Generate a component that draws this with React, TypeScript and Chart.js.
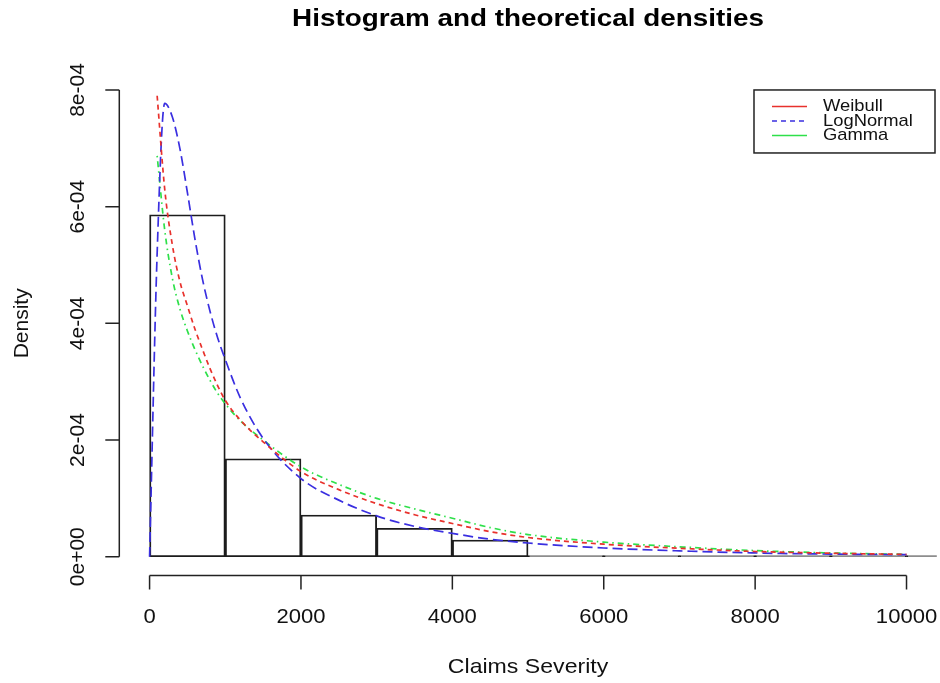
import React, { useEffect, useRef } from 'react';
import { Chart, registerables } from 'chart.js';

Chart.register(...registerables);

// Histogram
const binEdges = [0, 1000, 2000, 3000, 4000, 5000, 6000, 7000, 8000, 9000, 10000, 11000];
const binDensity = [5.86e-4, 1.68e-4, 0.715e-4, 0.487e-4, 0.286e-4, 0.02e-4, 0.02e-4, 0.02e-4, 0.02e-4, 0.02e-4, 0.02e-4];

// Density curves (x in claim units, y in density)
const curveX = [100, 200, 300, 400, 500, 600, 700, 800, 900, 1000, 1200, 1500, 2000, 2500, 3000, 3500, 4000, 4500, 5000, 6000, 7000, 8000, 9000, 10000];
const weibullY = [7.9e-4, 6.3e-4, 5.35e-4, 4.72e-4, 4.3e-4, 3.9e-4, 3.55e-4, 3.22e-4, 2.93e-4, 2.68e-4, 2.34e-4, 1.97e-4, 1.46e-4, 1.15e-4, 0.91e-4, 0.72e-4, 0.57e-4, 0.43e-4, 0.33e-4, 0.215e-4, 0.145e-4, 0.09e-4, 0.06e-4, 0.04e-4];
const gammaY = [6.87e-4, 5.6e-4, 4.78e-4, 4.25e-4, 3.87e-4, 3.55e-4, 3.27e-4, 3.02e-4, 2.8e-4, 2.62e-4, 2.33e-4, 2.0e-4, 1.54e-4, 1.24e-4, 1.0e-4, 0.82e-4, 0.66e-4, 0.5e-4, 0.38e-4, 0.25e-4, 0.17e-4, 0.105e-4, 0.065e-4, 0.04e-4];
const lognormX = [0, 100, 200, 300, 400, 500, 600, 700, 800, 900, 1000, 1200, 1500, 2000, 2500, 3000, 3500, 4000, 4500, 5000, 6000, 7000, 8000, 9000, 10000];
const lognormY = [0, 5.2e-4, 7.77e-4, 7.54e-4, 7.0e-4, 6.24e-4, 5.44e-4, 4.75e-4, 4.2e-4, 3.75e-4, 3.38e-4, 2.72e-4, 2.03e-4, 1.34e-4, 0.97e-4, 0.7e-4, 0.52e-4, 0.4e-4, 0.3e-4, 0.235e-4, 0.15e-4, 0.1e-4, 0.065e-4, 0.045e-4, 0.035e-4];

// Axes
const xTicks = [0, 2000, 4000, 6000, 8000, 10000];
const xTickLabels = ['0', '2000', '4000', '6000', '8000', '10000'];
const yTicks = [0, 2e-4, 4e-4, 6e-4, 8e-4];
const yTickLabels = ['0e+00', '2e-04', '4e-04', '6e-04', '8e-04'];
const xLimits = [-400, 10400];
const yLimits = [-0.32e-4, 8.32e-4];

const titleText = 'Histogram and theoretical densities';
const xTitle = 'Claims Severity';
const yTitle = 'Density';

const legendLabels = ['Weibull', 'LogNormal', 'Gamma'];
const legendColors = ['#e8312c', '#3a2fe0', '#2ee04a'];
const legendDashes: number[][] = [[], [5, 4], []];
const legendAnchor = [7985, 8e-4];

const FONT = '"Liberation Sans", Arial, Helvetica, sans-serif';

function drawText(
  ctx: CanvasRenderingContext2D,
  text: string,
  x: number,
  y: number,
  font: string,
  sx: number,
  rotate: boolean,
  align: CanvasTextAlign = 'center'
) {
  ctx.save();
  ctx.translate(x, y);
  if (rotate) ctx.rotate(-Math.PI / 2);
  ctx.scale(sx, 1);
  ctx.font = font;
  ctx.textAlign = align;
  ctx.textBaseline = 'middle';
  ctx.fillText(text, 0, 0);
  ctx.restore();
}

const rAxesPlugin = {
  id: 'rAxes',
  afterDraw(chart: any) {
    const ctx = chart.ctx as CanvasRenderingContext2D;
    const xs = chart.scales.x;
    const ys = chart.scales.y;
    const area = chart.chartArea;
    ctx.save();
    ctx.strokeStyle = '#222';
    ctx.fillStyle = '#111';
    ctx.lineWidth = 1.5;

    // x axis
    const axY = area.bottom;
    const x0 = xs.getPixelForValue(xTicks[0]);
    const x1 = xs.getPixelForValue(xTicks[xTicks.length - 1]);
    ctx.beginPath();
    ctx.moveTo(x0, axY);
    ctx.lineTo(x1, axY);
    xTicks.forEach((t) => {
      const px = xs.getPixelForValue(t);
      ctx.moveTo(px, axY);
      ctx.lineTo(px, axY + 14);
    });
    ctx.stroke();
    xTicks.forEach((t, i) => {
      drawText(ctx, xTickLabels[i], xs.getPixelForValue(t), 617, `21px ${FONT}`, 1.05, false);
    });

    // y axis
    const axX = area.left;
    const y0 = ys.getPixelForValue(yTicks[0]);
    const y1 = ys.getPixelForValue(yTicks[yTicks.length - 1]);
    ctx.beginPath();
    ctx.moveTo(axX, y0);
    ctx.lineTo(axX, y1);
    yTicks.forEach((t) => {
      const py = ys.getPixelForValue(t);
      ctx.moveTo(axX, py);
      ctx.lineTo(axX - 14, py);
    });
    ctx.stroke();
    yTicks.forEach((t, i) => {
      drawText(ctx, yTickLabels[i], 78, ys.getPixelForValue(t), `21px ${FONT}`, 1.0, true);
    });

    // axis titles
    drawText(ctx, xTitle, (area.left + area.right) / 2, 667, `21px ${FONT}`, 1.1, false);
    drawText(ctx, yTitle, 22, (area.top + area.bottom) / 2, `21px ${FONT}`, 1.0, true);

    // title
    ctx.fillStyle = '#000';
    drawText(ctx, titleText, (area.left + area.right) / 2, 19, `bold 24px ${FONT}`, 1.16, false);

    // legend
    const lx = xs.getPixelForValue(legendAnchor[0]);
    const ly = ys.getPixelForValue(legendAnchor[1]);
    ctx.lineWidth = 1.5;
    ctx.strokeStyle = '#222';
    ctx.strokeRect(lx, ly, 935 - lx, 63);
    legendLabels.forEach((lab, i) => {
      const ry = ly + 16.5 + i * 14.5;
      ctx.beginPath();
      ctx.strokeStyle = legendColors[i];
      ctx.lineWidth = 1.4;
      ctx.setLineDash(legendDashes[i]);
      ctx.moveTo(lx + 18, ry);
      ctx.lineTo(lx + 53, ry);
      ctx.stroke();
      ctx.setLineDash([]);
      ctx.fillStyle = '#111';
      drawText(ctx, lab, lx + 69, ry, `17px ${FONT}`, 1.08, false, 'left');
    });
    ctx.restore();
  },
};

export default function App() {
  const ref = useRef<HTMLCanvasElement | null>(null);
  useEffect(() => {
    document.body.style.margin = '0';
    const canvas = ref.current;
    if (!canvas) return;
    const pts = (xa: number[], ya: number[]) => xa.map((x, i) => ({ x, y: ya[i] }));
    const chart = new Chart(canvas, {
      type: 'bar',
      data: {
        datasets: [
          {
            type: 'line',
            label: 'Weibull',
            data: pts(curveX, weibullY),
            borderColor: legendColors[0],
            borderWidth: 1.7,
            borderDash: [5, 4],
            pointRadius: 0,
            fill: false,
            cubicInterpolationMode: 'monotone',
            order: 1,
          } as any,
          {
            type: 'line',
            label: 'LogNormal',
            data: pts(lognormX, lognormY),
            borderColor: legendColors[1],
            borderWidth: 1.7,
            borderDash: [10, 5],
            pointRadius: 0,
            fill: false,
            cubicInterpolationMode: 'monotone',
            order: 1,
          } as any,
          {
            type: 'line',
            label: 'Gamma',
            data: pts(curveX, gammaY),
            borderColor: legendColors[2],
            borderWidth: 1.7,
            borderDash: [1.5, 4, 6, 4],
            pointRadius: 0,
            fill: false,
            cubicInterpolationMode: 'monotone',
            order: 1,
          } as any,
          {
            type: 'bar',
            label: 'hist',
            data: binDensity.map((d, i) => ({ x: (binEdges[i] + binEdges[i + 1]) / 2, y: d })),
            backgroundColor: 'rgba(255,255,255,0)',
            borderColor: '#1c1c1c',
            borderWidth: 1.2,
            borderSkipped: false,
            barPercentage: 1,
            categoryPercentage: 1,
            order: 2,
          } as any,
        ],
      },
      options: {
        responsive: false,
        maintainAspectRatio: false,
        animation: false,
        layout: { padding: { left: 119.3, right: 3.2, top: 71.3, bottom: 107.6 } },
        scales: {
          x: { type: 'linear', min: xLimits[0], max: xLimits[1], display: false, offset: false, grid: { offset: false } },
          y: { type: 'linear', min: yLimits[0], max: yLimits[1], display: false },
        },
        plugins: {
          legend: { display: false },
          tooltip: { enabled: false },
          title: { display: false },
        },
      },
      plugins: [rAxesPlugin],
    });
    return () => chart.destroy();
  }, []);
  return <canvas ref={ref} width={940} height={683} style={{ display: 'block', width: 940, height: 683 }} />;
}
